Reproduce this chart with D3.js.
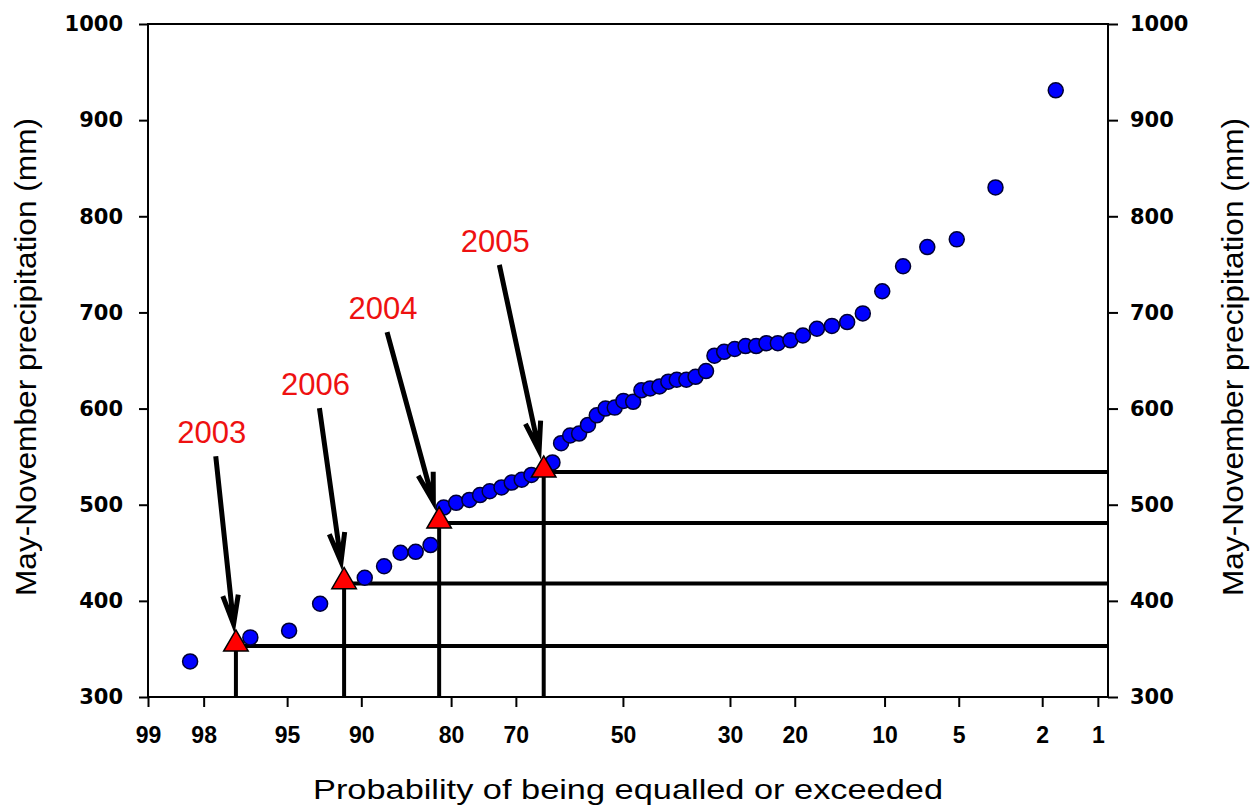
<!DOCTYPE html>
<html>
<head>
<meta charset="utf-8">
<script src="https://cdn.jsdelivr.net/npm/d3@7"></script>
<style>
  body { margin: 0; background: #fff; }
  svg { display: block; }
</style>
</head>
<body>
<svg id="chart"></svg>
<script>
// Exceedance probability (%) of each ranked year
const probs = [98.3, 96.6, 94.9, 93.1, 89.7, 87.9, 86.2, 84.5, 82.7, 81.0, 79.3, 77.4, 75.8, 74.3,
  72.4, 70.7, 69.0, 67.3, 63.5, 61.9, 60.2, 58.5, 56.8, 55.1, 53.4, 51.6, 49.9, 48.0, 46.4, 44.7,
  42.9, 41.2, 39.6, 37.8, 36.1, 34.2, 32.7, 31.0, 29.2, 27.4, 25.7, 24.1, 22.4, 20.6, 18.9, 17.1,
  15.3, 13.6, 12.0, 10.2, 8.5, 6.8, 5.1, 3.4, 1.7];
// May-November precipitation (mm) for the same years
const precip = [337, 362, 369, 397, 424, 436, 450, 451, 458, 497, 502, 505, 510, 514,
  518, 523, 526, 531, 544, 564, 572, 574, 583, 593, 600, 601, 608, 607, 619, 621,
  623, 628, 630, 630, 633, 639, 655, 659, 662, 665, 665, 668, 668, 671, 676, 683,
  686, 690, 699, 722, 748, 768, 776, 830, 931];

// Highlighted years
const years = ["2003", "2006", "2004", "2005"];
const yearProb = [97.1, 91.4, 81.6, 65.1];
const yearPrecip = [353, 418, 481, 534];
// where each year's label sits (probability, mm at baseline)
const labelProb = [97.8, 93.4, 88.0, 73.4];
const labelPrecip = [564, 614, 693, 763];

// Axis ticks
const xTicks = [99, 98, 95, 90, 80, 70, 50, 30, 20, 10, 5, 2, 1];
const yTicks = [300, 400, 500, 600, 700, 800, 900, 1000];

// Inverse of the standard normal CDF (Acklam's approximation)
function probit(p) {
  const a = [-3.969683028665376e+01, 2.209460984245205e+02, -2.759285104469687e+02,
    1.383577518672690e+02, -3.066479806614716e+01, 2.506628277459239e+00];
  const b = [-5.447609879822406e+01, 1.615858368580409e+02, -1.556989798598866e+02,
    6.680131188771972e+01, -1.328068155288572e+01];
  const c = [-7.784894002430293e-03, -3.223964580411365e-01, -2.400758277161838e+00,
    -2.549732539343734e+00, 4.374664141464968e+00, 2.938163982698783e+00];
  const d = [7.784695709041462e-03, 3.224671290700398e-01, 2.445134137142996e+00,
    3.754408661907416e+00];
  const pl = 0.02425;
  let q, r;
  if (p < pl) {
    q = Math.sqrt(-2 * Math.log(p));
    return (((((c[0] * q + c[1]) * q + c[2]) * q + c[3]) * q + c[4]) * q + c[5]) /
      ((((d[0] * q + d[1]) * q + d[2]) * q + d[3]) * q + 1);
  }
  if (p > 1 - pl) {
    q = Math.sqrt(-2 * Math.log(1 - p));
    return -(((((c[0] * q + c[1]) * q + c[2]) * q + c[3]) * q + c[4]) * q + c[5]) /
      ((((d[0] * q + d[1]) * q + d[2]) * q + d[3]) * q + 1);
  }
  q = p - 0.5;
  r = q * q;
  return (((((a[0] * r + a[1]) * r + a[2]) * r + a[3]) * r + a[4]) * r + a[5]) * q /
    (((((b[0] * r + b[1]) * r + b[2]) * r + b[3]) * r + b[4]) * r + 1);
}
const zOf = (p) => probit(p / 100);

// Chart dimensions
const width = 1256, height = 807;
const margin = { top: 24, right: 148, bottom: 110, left: 148 };
const w = width - margin.left - margin.right;
const h = height - margin.top - margin.bottom;

const svg = d3.select("#chart").attr("width", width).attr("height", height);
const g = svg.append("g").attr("transform", `translate(${margin.left},${margin.top})`);

// normal probability scale: linear in z, 99% on the left
const xz = d3.scaleLinear().domain([zOf(99), zOf(0.875)]).range([0, w]);
const x = (p) => xz(zOf(p));
const y = d3.scaleLinear().domain([300, 1000]).range([h, 0]);

// Axes
const xAxis = g.append("g")
  .attr("transform", `translate(0,${h})`)
  .call(d3.axisBottom(xz)
    .tickValues(xTicks.map(zOf))
    .tickFormat((d, i) => xTicks[i])
    .tickSize(10).tickSizeOuter(0).tickPadding(20));

const yLeft = g.append("g")
  .call(d3.axisLeft(y).tickValues(yTicks).tickFormat(d3.format("d"))
    .tickSize(9).tickSizeOuter(0).tickPadding(16));

const yRight = g.append("g")
  .attr("transform", `translate(${w},0)`)
  .call(d3.axisRight(y).tickValues(yTicks).tickFormat(d3.format("d"))
    .tickSize(10).tickSizeOuter(0).tickPadding(12));

[xAxis, yLeft, yRight].forEach((ax) => {
  ax.select(".domain").remove();
  ax.selectAll(".tick line").attr("stroke", "#000").attr("stroke-width", 2);
});
xAxis.selectAll("text")
  .style("font-family", "'Liberation Sans', Arial, sans-serif")
  .style("font-size", "23px").style("font-weight", "bold").attr("fill", "#000");
[yLeft, yRight].forEach((ax) => ax.selectAll("text")
  .style("font-family", "'DejaVu Sans', Verdana, sans-serif")
  .style("font-size", "21px").style("font-weight", "bold").attr("fill", "#000"));

// Plot frame
g.append("rect")
  .attr("width", w).attr("height", h)
  .attr("fill", "none").attr("stroke", "#000").attr("stroke-width", 2);

// Drop lines from each highlighted year
const marks = years.map((yr, i) => ({ yr, p: yearProb[i], v: yearPrecip[i], lp: labelProb[i], lv: labelPrecip[i] }));

g.selectAll(".vline").data(marks).enter().append("line")
  .attr("class", "vline")
  .attr("x1", (d) => x(d.p)).attr("x2", (d) => x(d.p))
  .attr("y1", (d) => y(d.v)).attr("y2", h)
  .attr("stroke", "#000").attr("stroke-width", 4);

g.selectAll(".hline").data(marks).enter().append("line")
  .attr("class", "hline")
  .attr("x1", (d) => x(d.p)).attr("x2", w)
  .attr("y1", (d) => y(d.v)).attr("y2", (d) => y(d.v))
  .attr("stroke", "#000").attr("stroke-width", 4);

// Ranked observations
g.selectAll(".dot").data(probs).enter().append("circle")
  .attr("class", "dot")
  .attr("cx", (d) => x(d))
  .attr("cy", (d, i) => y(precip[i]))
  .attr("r", 7.5)
  .attr("fill", "#0000ff")
  .attr("stroke", "#000033")
  .attr("stroke-width", 1.5);

// Highlighted years as triangles
g.selectAll(".tri").data(marks).enter().append("path")
  .attr("class", "tri")
  .attr("transform", (d) => `translate(${x(d.p)},${y(d.v) - 2})`)
  .attr("d", d3.symbol(d3.symbolTriangle, 260))
  .attr("fill", "#ff0000")
  .attr("stroke", "#000").attr("stroke-width", 1.5);

// Year labels
g.selectAll(".yr").data(marks).enter().append("text")
  .attr("class", "yr")
  .attr("x", (d) => x(d.lp))
  .attr("y", (d) => y(d.lv))
  .attr("text-anchor", "middle")
  .style("font-family", "'Liberation Sans', Arial, sans-serif")
  .style("font-size", "31px")
  .attr("fill", "#ee1111")
  .text((d) => d.yr);

// Arrows from label to triangle
function arrowPath(d) {
  const tx = x(d.lp) + 4, ty = y(d.lv) + 13;
  const px = x(d.p), py = y(d.v);
  const len = Math.hypot(px - tx, py - ty);
  const ux = (px - tx) / len, uy = (py - ty) / len;
  const hx = px - ux * 22, hy = py - uy * 22;
  const a = 15 * Math.PI / 180, wl = 30;
  const w1x = hx - wl * (ux * Math.cos(a) - uy * Math.sin(a));
  const w1y = hy - wl * (ux * Math.sin(a) + uy * Math.cos(a));
  const w2x = hx - wl * (ux * Math.cos(-a) - uy * Math.sin(-a));
  const w2y = hy - wl * (ux * Math.sin(-a) + uy * Math.cos(-a));
  return `M${tx},${ty}L${hx},${hy}M${w1x},${w1y}L${hx},${hy}L${w2x},${w2y}`;
}

g.selectAll(".arrow").data(marks).enter().append("path")
  .attr("class", "arrow")
  .attr("d", arrowPath)
  .attr("fill", "none")
  .attr("stroke", "#000").attr("stroke-width", 5)
  .attr("stroke-linejoin", "miter");

// Axis titles
svg.append("text")
  .attr("x", 628).attr("y", 799)
  .attr("text-anchor", "middle")
  .attr("textLength", 630).attr("lengthAdjust", "spacingAndGlyphs")
  .style("font-family", "'Liberation Sans', Arial, sans-serif")
  .style("font-size", "28px")
  .text("Probability of being equalled or exceeded");

svg.append("text")
  .attr("transform", "translate(36,357) rotate(-90)")
  .attr("text-anchor", "middle")
  .attr("textLength", 478).attr("lengthAdjust", "spacingAndGlyphs")
  .style("font-family", "'Liberation Sans', Arial, sans-serif")
  .style("font-size", "30px")
  .text("May-November precipitation (mm)");

svg.append("text")
  .attr("transform", "translate(1243,357) rotate(-90)")
  .attr("text-anchor", "middle")
  .attr("textLength", 478).attr("lengthAdjust", "spacingAndGlyphs")
  .style("font-family", "'Liberation Sans', Arial, sans-serif")
  .style("font-size", "30px")
  .text("May-November precipitation (mm)");
</script>
</body>
</html>
